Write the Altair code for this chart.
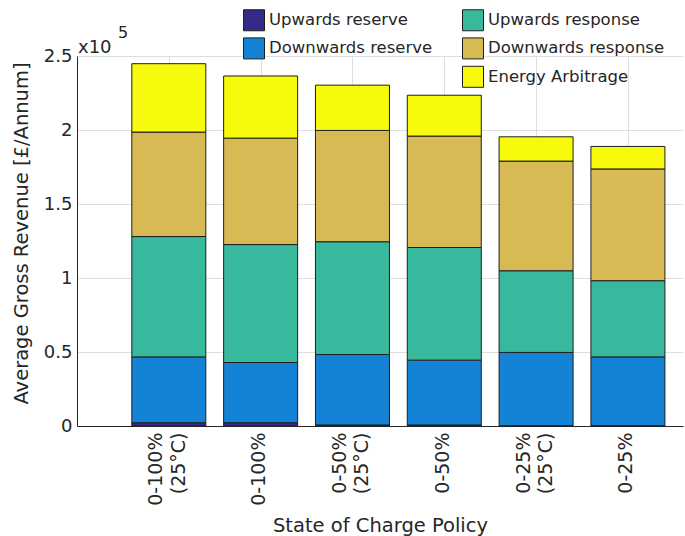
import altair as alt
import pandas as pd

# Bar positions and their (possibly two-line) tick labels
positions = [1, 2, 3, 4, 5, 6]
policy_labels = [
    ["0-100%", "(25°C)"],
    ["0-100%"],
    ["0-50%", "(25°C)"],
    ["0-50%"],
    ["0-25%", "(25°C)"],
    ["0-25%"],
]

# Revenue streams, bottom of the stack first
components = [
    "Upwards reserve",
    "Downwards reserve",
    "Upwards response",
    "Downwards response",
    "Energy Arbitrage",
]

# Revenue per stream [£/Annum]
upwards_reserve = [2200, 2200, 700, 700, 200, 200]
downwards_reserve = [44500, 40700, 47600, 43800, 49500, 46500]
upwards_response = [81300, 79700, 76200, 76100, 55200, 51500]
downwards_response = [70600, 71900, 75200, 75300, 74100, 75500]
energy_arbitrage = [46200, 42000, 30600, 27600, 16400, 15200]

series = [upwards_reserve, downwards_reserve, upwards_response,
          downwards_response, energy_arbitrage]

stream_colors = {
    "Upwards reserve": "#352a87",
    "Downwards reserve": "#1483d6",
    "Upwards response": "#38b99e",
    "Downwards response": "#d8ba55",
    "Energy Arbitrage": "#f8fa0e",
}

rows = []
for k, (name, values) in enumerate(zip(components, series)):
    for pos, v in zip(positions, values):
        rows.append({"pos": pos, "stream": name, "rank": k, "revenue": v})
df = pd.DataFrame(rows)

# Legend fills column by column (3 rows x 2 columns); a blank slot keeps
# "Energy Arbitrage" at the bottom of the second column.
blank = " "
legend_order = ["Upwards reserve", "Downwards reserve", blank,
                "Upwards response", "Downwards response", "Energy Arbitrage"]
fill_range = [stream_colors.get(s, "transparent") for s in legend_order]
stroke_range = ["transparent" if s == blank else "#1e1e1e" for s in legend_order]

FONT = "DejaVu Sans"
INK = "#262626"

legend = alt.Legend(
    title=None,
    orient="none",
    legendX=166,
    legendY=-47,
    columns=2,
    columnPadding=27,
    rowPadding=2.4,
    symbolType="square",
    symbolSize=441,
    symbolStrokeWidth=1,
    labelFont=FONT,
    labelFontSize=16.5,
    labelColor=INK,
    labelOffset=4,
    labelLimit=400,
    padding=0,
)

label_expr = ("[" + ",".join(
    "[" + ",".join("'" + s + "'" for s in lines) + "]" for lines in policy_labels
) + "][datum.value - 1]")
two_line_test = "datum.value % 2 == 1"

bars = alt.Chart(df).mark_bar(size=74, strokeWidth=1).encode(
    x=alt.X(
        "pos:Q",
        scale=alt.Scale(domain=[0, 6.6], nice=False, zero=False, padding=0),
        axis=alt.Axis(
            title="State of Charge Policy",
            values=positions,
            labelExpr=label_expr,
            labelAngle=270,
            labelAlign="right",
            labelBaseline="middle",
            labelLineHeight=22.5,
            labelOffset={"condition": {"test": two_line_test, "value": -13},
                         "value": -2},
            labelPadding=6,
            labelFontSize=19,
            ticks=False,
            titlePadding=11,
        ),
    ),
    y=alt.Y(
        "revenue:Q",
        stack="zero",
        scale=alt.Scale(domain=[0, 250000], nice=False),
        axis=alt.Axis(
            title="Average Gross Revenue [£/Annum]",
            values=[0, 50000, 100000, 150000, 200000, 250000],
            labelExpr="'' + datum.value / 100000",
            labelPadding=5,
            labelFontSize=18,
            ticks=False,
            titlePadding=12,
            titleY=177,
        ),
    ),
    color=alt.Color(
        "stream:N",
        scale=alt.Scale(domain=legend_order, range=fill_range),
        legend=legend,
    ),
    stroke=alt.Stroke(
        "stream:N",
        scale=alt.Scale(domain=legend_order, range=stroke_range),
        legend=legend,
    ),
    order=alt.Order("rank:Q"),
)

# Exponent marker for the y axis
base_text = alt.Chart(pd.DataFrame({"t": ["x10"]})).mark_text(
    align="left", baseline="alphabetic", font=FONT, fontSize=18, color=INK
).encode(x=alt.value(1), y=alt.value(-3), text="t:N")
exp_text = alt.Chart(pd.DataFrame({"t": ["5"]})).mark_text(
    align="left", baseline="alphabetic", font=FONT, fontSize=16, color=INK
).encode(x=alt.value(41), y=alt.value(-18), text="t:N")

chart = alt.layer(bars, base_text, exp_text).properties(
    width=606,
    height=370,
    autosize="none",
    padding={"left": 77, "top": 56, "right": 2, "bottom": 110},
    background="white",
).configure_view(
    stroke=None
).configure_axis(
    labelFont=FONT,
    titleFont=FONT,
    labelColor=INK,
    titleColor=INK,
    titleFontSize=19.5,
    titleFontWeight="normal",
    domainColor=INK,
    domainWidth=1,
    gridColor="#dedede",
    gridWidth=1,
    grid=True,
)

chart.save("out.html", embed_options={"renderer": "svg", "actions": False})
